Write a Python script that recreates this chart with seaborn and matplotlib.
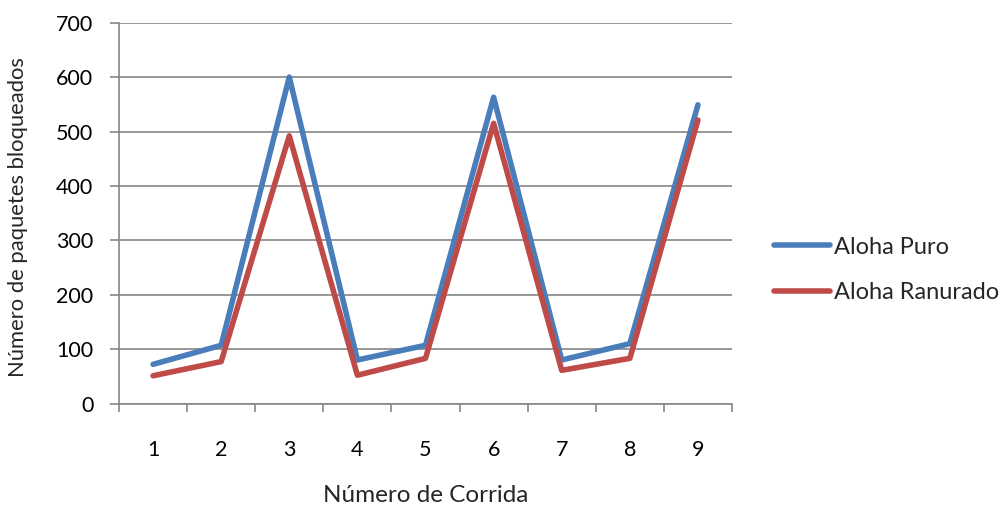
import matplotlib
matplotlib.use("Agg")
import matplotlib.pyplot as plt
import numpy as np
import pandas as pd
import seaborn as sns

# Blocked packets per run for each ALOHA variant
corridas = [1, 2, 3, 4, 5, 6, 7, 8, 9]
aloha_puro = [72, 107, 600, 80, 107, 563, 80, 110, 549]
aloha_ranurado = [51, 77, 492, 52, 83, 515, 61, 83, 521]
series = ["Aloha Puro", "Aloha Ranurado"]
y_ticks = [0, 100, 200, 300, 400, 500, 600, 700]

df = pd.DataFrame({
    "Corrida": corridas * 2,
    "Paquetes": aloha_puro + aloha_ranurado,
    "Serie": [series[0]] * len(corridas) + [series[1]] * len(corridas),
})

sns.set_theme(style="white")
plt.rcParams["font.family"] = ["Lato", "DejaVu Sans"]

fig = plt.figure(figsize=(10.05, 5.09), dpi=100)
ax = fig.add_axes([119 / 1005, 1 - 403.5 / 509, (732 - 119) / 1005, (403.5 - 22.7) / 509])

palette = {"Aloha Puro": "#4A7EBB", "Aloha Ranurado": "#BE4B48"}
sns.lineplot(data=df, x="Corrida", y="Paquetes", hue="Serie", palette=palette,
             linewidth=4.0, ax=ax, legend=True,
             solid_joinstyle="round", solid_capstyle="round")

grid_color = "#868686"
ax.set_ylim(0, 700)
ax.set_yticks(y_ticks)
ax.yaxis.grid(True, color=grid_color, linewidth=1.2)
ax.set_axisbelow(True)
ax.set_xlim(0.5, 9.5)
ax.set_xticks(corridas)
ax.set_xticklabels([str(c) for c in corridas])
ax.set_xticks(np.arange(0.5, 10.0, 1.0), minor=True)

ax.tick_params(axis="x", which="major", bottom=True, length=0, pad=26,
               labelsize=15.5, labelcolor="black")
ax.tick_params(axis="x", which="minor", bottom=True, length=6, width=1.2,
               color=grid_color, direction="out")
ax.tick_params(axis="y", which="major", left=True, length=6.5, width=1.2,
               color=grid_color, direction="out", pad=12, labelsize=15.5, labelcolor="black")

for side in ["top", "right"]:
    ax.spines[side].set_visible(False)
for side in ["left", "bottom"]:
    ax.spines[side].set_color(grid_color)
    ax.spines[side].set_linewidth(1.2)

ax.set_xlabel("Número de Corrida", fontsize=17.5)
ax.set_ylabel("Número de paquetes bloqueados", fontsize=15.8)
ax.xaxis.set_label_coords(0.5, -0.213)
ax.yaxis.set_label_coords(-0.148, 0.489)

handles, labels = ax.get_legend_handles_labels()
ax.legend(handles, labels, loc="center left", bbox_to_anchor=(762 / 1005, 1 - 270 / 509),
          bbox_transform=fig.transFigure, frameon=False, fontsize=17,
          handlelength=2.4, handletextpad=0.15, labelspacing=1.05, borderpad=0)

fig.savefig("out.png", dpi=100)
